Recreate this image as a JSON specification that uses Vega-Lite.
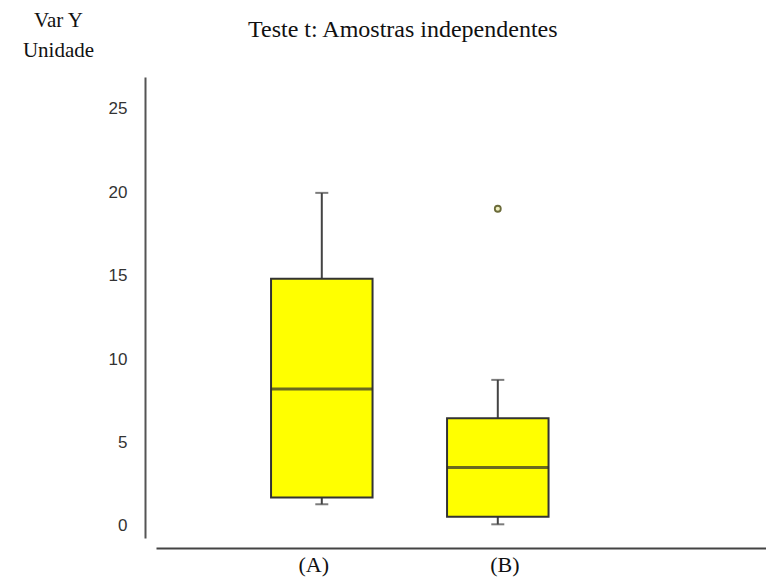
{
  "$schema": "https://vega.github.io/schema/vega-lite/v6.json",
  "autosize": "none",
  "width": 610,
  "height": 461,
  "padding": {"left": 156, "top": 77, "right": 0, "bottom": 46},
  "background": "white",
  "title": {
    "text": "Teste t: Amostras independentes",
    "font": "Liberation Serif",
    "fontSize": 24,
    "fontWeight": "normal",
    "color": "#111111",
    "anchor": "start",
    "frame": "group",
    "dx": 92,
    "offset": -33
  },
  "config": {"view": {"stroke": null}},
  "datasets": {
    "boxes": [
      {"grupo": "(A)", "min": 1.3, "q1": 1.7, "mediana": 8.2, "q3": 14.8, "max": 19.95},
      {"grupo": "(B)", "min": 0.1, "q1": 0.55, "mediana": 3.5, "q3": 6.45, "max": 8.75}
    ],
    "outliers": [
      {"grupo": "(B)", "valor": 19.0}
    ]
  },
  "encoding": {
    "x": {
      "field": "grupo",
      "type": "nominal",
      "sort": ["(A)", "(B)"],
      "scale": {"domain": ["(A)", "(B)"], "paddingInner": 0.4233, "paddingOuter": 0.9446, "align": 0.346},
      "axis": {
        "title": null,
        "orient": "bottom",
        "offset": 10,
        "ticks": false,
        "domainColor": "#444444",
        "domainWidth": 2,
        "labelFont": "Liberation Serif",
        "labelFontSize": 22,
        "labelColor": "#111111",
        "labelAngle": 0,
        "labelPadding": 6,
        "labelOffset": {"expr": "datum.value === '(A)' ? -8 : 7"}
      }
    }
  },
  "layer": [
    {
      "data": {"name": "boxes"},
      "mark": {"type": "rule", "color": "#444444", "strokeWidth": 2},
      "encoding": {
        "y": {
          "field": "min",
          "type": "quantitative",
          "scale": {"domain": [-0.72, 26.89], "nice": false, "zero": false},
          "axis": {
            "title": ["Var Y", "Unidade"],
            "titleFont": "Liberation Serif",
            "titleFontSize": 21,
            "titleFontWeight": "normal",
            "titleColor": "#111111",
            "titleAngle": 0,
            "titleAlign": "center",
            "titleBaseline": "top",
            "titleLineHeight": 30,
            "titleX": -87,
            "titleY": -68,
            "values": [0, 5, 10, 15, 20, 25],
            "ticks": false,
            "grid": false,
            "offset": 11,
            "domainColor": "#555555",
            "domainWidth": 2,
            "labelFont": "Liberation Sans",
            "labelFontSize": 17,
            "labelColor": "#333333",
            "labelPadding": 18
          }
        },
        "y2": {"field": "max"}
      }
    },
    {
      "data": {"name": "boxes"},
      "mark": {"type": "tick", "color": "#444444", "size": 13, "thickness": 2},
      "encoding": {"y": {"field": "min", "type": "quantitative"}}
    },
    {
      "data": {"name": "boxes"},
      "mark": {"type": "tick", "color": "#444444", "size": 13, "thickness": 2},
      "encoding": {"y": {"field": "max", "type": "quantitative"}}
    },
    {
      "data": {"name": "boxes"},
      "mark": {"type": "bar", "fill": "#ffff00", "stroke": "#333333", "strokeWidth": 2, "width": {"band": 1}},
      "encoding": {
        "y": {"field": "q1", "type": "quantitative"},
        "y2": {"field": "q3"}
      }
    },
    {
      "data": {"name": "boxes"},
      "mark": {"type": "tick", "color": "#2b2b2b", "thickness": 3, "size": 101},
      "encoding": {"y": {"field": "mediana", "type": "quantitative"}}
    },
    {
      "data": {"name": "outliers"},
      "mark": {"type": "point", "shape": "circle", "size": 36, "stroke": "#6b6b3a", "strokeWidth": 1.8, "fill": "#f0f0c0", "filled": false, "opacity": 1},
      "encoding": {"y": {"field": "valor", "type": "quantitative"}}
    }
  ]
}
